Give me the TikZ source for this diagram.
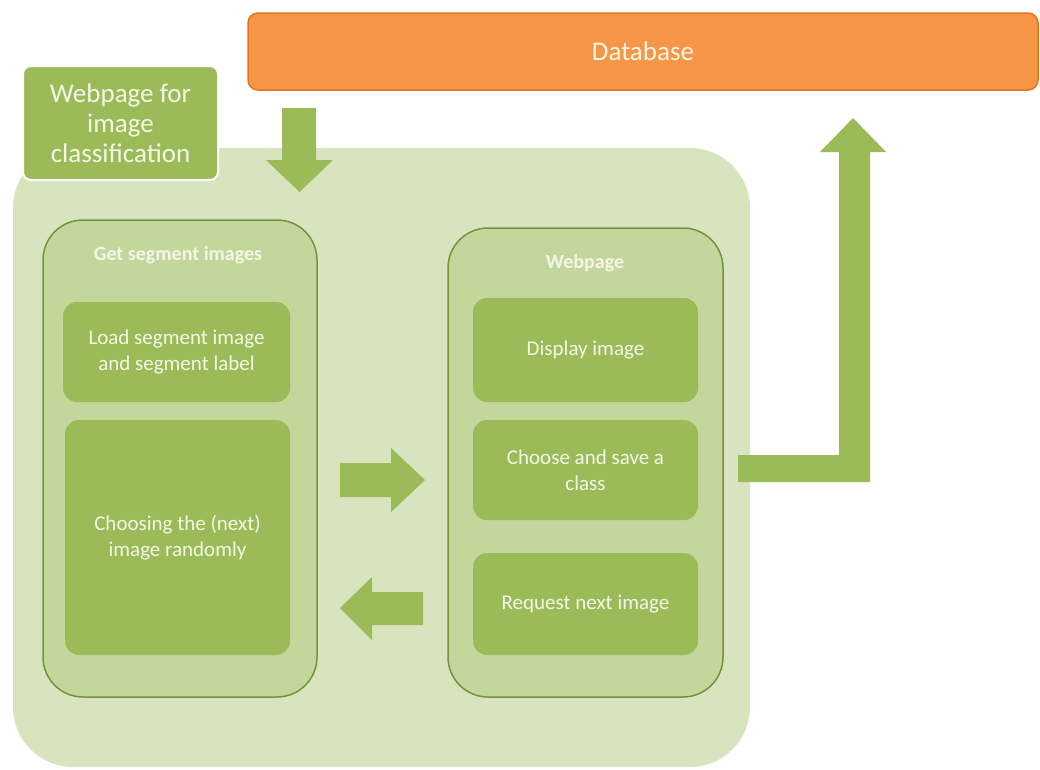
\documentclass[tikz,border=0pt]{standalone}
\usepackage{fontspec}
\setmainfont{Carlito}
\definecolor{orfill}{HTML}{F79646}
\definecolor{ordraw}{HTML}{E3741E}
\definecolor{gmain}{HTML}{9BBB59}
\definecolor{glight}{HTML}{D8E4BE}
\definecolor{gmid}{HTML}{C3D69B}
\definecolor{gdark}{HTML}{76923C}
\definecolor{txt}{HTML}{F4F7E6}
\tikzset{
  body/.style={font=\fontsize{21}{26}\selectfont, text=txt, align=center},
  inner/.style={body, fill=gmain, rounded corners=14pt, inner sep=0pt},
  cont/.style={fill=gmid, draw=gdark, line width=1.5pt, rounded corners=40pt, inner sep=0pt},
  hdr/.style={font=\fontsize{20}{24}\selectfont\bfseries, text=txt},
  blockarrow/.style={fill=gmain, draw=none},
}
\begin{document}
\begin{tikzpicture}[x=1pt,y=-1pt]
\useasboundingbox (0,0) rectangle (1040,769);
% background panel
\node[fill=glight, rounded corners=60pt, minimum width=737pt, minimum height=619pt, inner sep=0pt] (bg) at (381.5,457.5) {};
% database
\node[fill=orfill, draw=ordraw, line width=1.5pt, rounded corners=10pt, minimum width=790pt, minimum height=77pt, inner sep=0pt,
  font=\fontsize{27}{30}\selectfont, text=txt] (db) at (643,51.5) {Database};
% title
\node[fill=gmain, draw=white, line width=2pt, rounded corners=8pt, minimum width=195pt, minimum height=114pt, inner sep=0pt,
  font=\fontsize{27}{30}\selectfont, text=txt, align=center] (title) at (120.5,123) {Webpage for\\image\\classification};
% containers
\node[cont, minimum width=274pt, minimum height=477pt] (left) at (180,458.5) {};
\node[cont, minimum width=275pt, minimum height=469pt] (right) at (585.5,462.5) {};
\node[hdr] (lefthdr) at (178,255) {Get segment images};
\node[hdr] (righthdr) at (585,263) {Webpage};
% inner boxes
\node[inner, minimum width=227pt, minimum height=100pt] (load) at (176.5,352) {Load segment image\\and segment label};
\node[inner, minimum width=225pt, minimum height=235pt] (choosing) at (177.5,537.5) {Choosing the (next)\\image randomly};
\node[inner, minimum width=225pt, minimum height=104pt] (display) at (585.5,350) {Display image};
\node[inner, minimum width=225pt, minimum height=100pt] (choose) at (585.5,470) {Choose and save a\\class};
\node[inner, minimum width=225pt, minimum height=102pt] (request) at (585.5,604) {Request next image};
% block arrows
\fill[blockarrow] (282,108) -- (316,108) -- (316,160) -- (333,160) -- (299.5,192) -- (266,160) -- (282,160) -- cycle;
\fill[blockarrow] (340,463) -- (391,463) -- (391,448) -- (425,480) -- (391,512) -- (391,497) -- (340,497) -- cycle;
\fill[blockarrow] (423,592) -- (372,592) -- (372,577) -- (340,608) -- (372,640) -- (372,625) -- (423,625) -- cycle;
\fill[blockarrow] (738,455) -- (839,455) -- (839,152) -- (820,152) -- (853,118) -- (886,152) -- (870,152) -- (870,482) -- (738,482) -- cycle;
\end{tikzpicture}
\end{document}
